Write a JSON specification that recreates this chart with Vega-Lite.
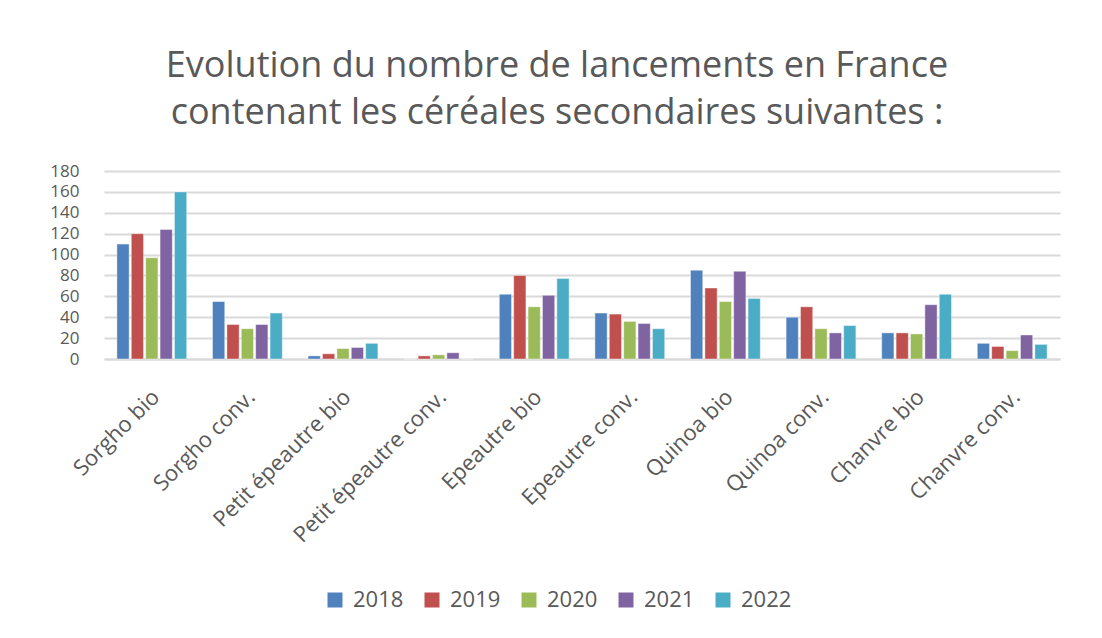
{
  "$schema": "https://vega.github.io/schema/vega-lite/v6.json",
  "autosize": {"type": "none"},
  "width": 956,
  "height": 188,
  "padding": {"left": 104, "top": 171, "right": 42, "bottom": 279},
  "background": "white",
  "title": {
    "text": ["Evolution du nombre de lancements en France", "contenant les céréales secondaires suivantes :"],
    "font": "Open Sans",
    "fontSize": 36,
    "fontWeight": "normal",
    "color": "#595959",
    "anchor": "middle",
    "frame": "group",
    "dx": -25,
    "offset": 30,
    "lineHeight": 47
  },
  "data": {
    "values": [
      {"cat": "Sorgho bio", "year": "2018", "value": 110},
      {"cat": "Sorgho bio", "year": "2019", "value": 120},
      {"cat": "Sorgho bio", "year": "2020", "value": 97},
      {"cat": "Sorgho bio", "year": "2021", "value": 124},
      {"cat": "Sorgho bio", "year": "2022", "value": 160},
      {"cat": "Sorgho conv.", "year": "2018", "value": 55},
      {"cat": "Sorgho conv.", "year": "2019", "value": 33},
      {"cat": "Sorgho conv.", "year": "2020", "value": 29},
      {"cat": "Sorgho conv.", "year": "2021", "value": 33},
      {"cat": "Sorgho conv.", "year": "2022", "value": 44},
      {"cat": "Petit épeautre bio", "year": "2018", "value": 3},
      {"cat": "Petit épeautre bio", "year": "2019", "value": 5},
      {"cat": "Petit épeautre bio", "year": "2020", "value": 10},
      {"cat": "Petit épeautre bio", "year": "2021", "value": 11},
      {"cat": "Petit épeautre bio", "year": "2022", "value": 15},
      {"cat": "Petit épeautre conv.", "year": "2018", "value": 0},
      {"cat": "Petit épeautre conv.", "year": "2019", "value": 3},
      {"cat": "Petit épeautre conv.", "year": "2020", "value": 4},
      {"cat": "Petit épeautre conv.", "year": "2021", "value": 6},
      {"cat": "Petit épeautre conv.", "year": "2022", "value": 0},
      {"cat": "Epeautre bio", "year": "2018", "value": 62},
      {"cat": "Epeautre bio", "year": "2019", "value": 80},
      {"cat": "Epeautre bio", "year": "2020", "value": 50},
      {"cat": "Epeautre bio", "year": "2021", "value": 61},
      {"cat": "Epeautre bio", "year": "2022", "value": 77},
      {"cat": "Epeautre conv.", "year": "2018", "value": 44},
      {"cat": "Epeautre conv.", "year": "2019", "value": 43},
      {"cat": "Epeautre conv.", "year": "2020", "value": 36},
      {"cat": "Epeautre conv.", "year": "2021", "value": 34},
      {"cat": "Epeautre conv.", "year": "2022", "value": 29},
      {"cat": "Quinoa bio", "year": "2018", "value": 85},
      {"cat": "Quinoa bio", "year": "2019", "value": 68},
      {"cat": "Quinoa bio", "year": "2020", "value": 55},
      {"cat": "Quinoa bio", "year": "2021", "value": 84},
      {"cat": "Quinoa bio", "year": "2022", "value": 58},
      {"cat": "Quinoa conv.", "year": "2018", "value": 40},
      {"cat": "Quinoa conv.", "year": "2019", "value": 50},
      {"cat": "Quinoa conv.", "year": "2020", "value": 29},
      {"cat": "Quinoa conv.", "year": "2021", "value": 25},
      {"cat": "Quinoa conv.", "year": "2022", "value": 32},
      {"cat": "Chanvre bio", "year": "2018", "value": 25},
      {"cat": "Chanvre bio", "year": "2019", "value": 25},
      {"cat": "Chanvre bio", "year": "2020", "value": 24},
      {"cat": "Chanvre bio", "year": "2021", "value": 52},
      {"cat": "Chanvre bio", "year": "2022", "value": 62},
      {"cat": "Chanvre conv.", "year": "2018", "value": 15},
      {"cat": "Chanvre conv.", "year": "2019", "value": 12},
      {"cat": "Chanvre conv.", "year": "2020", "value": 8},
      {"cat": "Chanvre conv.", "year": "2021", "value": 23},
      {"cat": "Chanvre conv.", "year": "2022", "value": 14}
    ]
  },
  "mark": {"type": "bar", "stroke": "white", "strokeWidth": 0.6, "strokeOpacity": 0.7},
  "encoding": {
    "x": {
      "field": "cat",
      "type": "nominal",
      "sort": null,
      "title": null,
      "scale": {"paddingInner": 0.27, "paddingOuter": 0.135},
      "axis": {
        "labelAngle": -45,
        "labelAlign": "right",
        "labelBaseline": "top",
        "labelFont": "Open Sans",
        "labelFontSize": 22,
        "labelColor": "#595959",
        "labelPadding": 27,
        "labelOffset": -3,
        "labelLimit": 400,
        "labelOverlap": false,
        "ticks": false,
        "domain": true,
        "domainColor": "#D9D9D9",
        "domainWidth": 2,
        "grid": false
      }
    },
    "xOffset": {"field": "year", "type": "nominal", "scale": {"paddingInner": 0.15}},
    "y": {
      "field": "value",
      "type": "quantitative",
      "title": null,
      "scale": {"domain": [0, 180], "nice": false},
      "axis": {
        "values": [0, 20, 40, 60, 80, 100, 120, 140, 160, 180],
        "labelFont": "Open Sans",
        "labelFontSize": 17,
        "labelColor": "#595959",
        "labelPadding": 25,
        "labelOverlap": false,
        "ticks": false,
        "domain": false,
        "grid": true,
        "gridColor": "#D9D9D9",
        "gridWidth": 2
      }
    },
    "color": {
      "field": "year",
      "type": "nominal",
      "title": null,
      "scale": {
        "domain": ["2018", "2019", "2020", "2021", "2022"],
        "range": ["#4F81BD", "#C0504D", "#9BBB59", "#8064A2", "#4BACC6"]
      },
      "legend": {
        "orient": "none",
        "direction": "horizontal",
        "legendX": 220,
        "legendY": 418,
        "symbolType": "square",
        "symbolSize": 225,
        "symbolStrokeWidth": 0,
        "labelFont": "Open Sans",
        "labelFontSize": 22,
        "labelColor": "#595959",
        "columnPadding": 17,
        "labelOffset": 7
      }
    }
  },
  "config": {
    "view": {"stroke": null}
  }
}
